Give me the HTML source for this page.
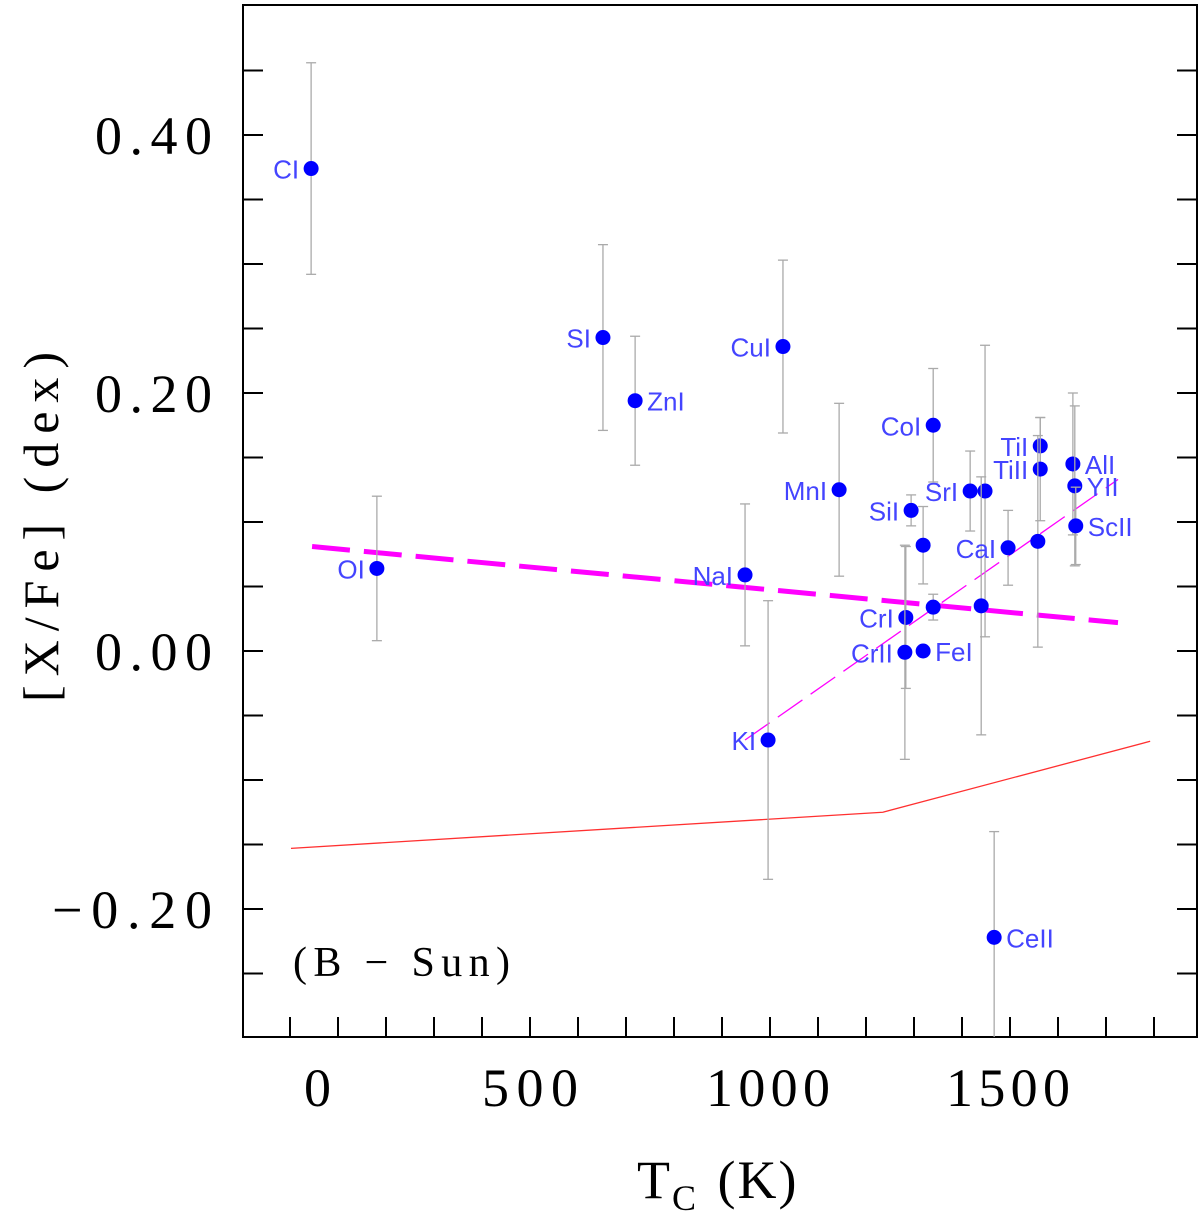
<!DOCTYPE html>
<html><head><meta charset="utf-8">
<style>
html,body{margin:0;padding:0;background:#fff;}
svg{display:block;}
.tk{font-family:"Liberation Serif",serif;font-size:54px;fill:#000;}
.lb{font-family:"Liberation Sans",sans-serif;font-size:26px;fill:#4444ff;}
</style></head>
<body>
<svg id="chart" width="1200" height="1220" viewBox="0 0 1200 1220" xmlns="http://www.w3.org/2000/svg">
<defs><clipPath id="pc"><rect x="243" y="5" width="954" height="1032"/></clipPath></defs>
<rect x="243" y="5" width="954" height="1032" fill="none" stroke="#000" stroke-width="2"/>
<g id="ticks"></g>
<g id="fits" clip-path="url(#pc)"></g>
<g id="pts" clip-path="url(#pc)"></g>
<text class="tk" x="304" y="1106">0</text>
<text class="tk" x="482" y="1106" textLength="96" lengthAdjust="spacing">500</text>
<text class="tk" x="706" y="1106" textLength="124" lengthAdjust="spacing">1000</text>
<text class="tk" x="946" y="1106" textLength="124" lengthAdjust="spacing">1500</text>
<text class="tk" x="95" y="154" textLength="117" lengthAdjust="spacing">0.40</text>
<text class="tk" x="95" y="412" textLength="117" lengthAdjust="spacing">0.20</text>
<text class="tk" x="95" y="670" textLength="117" lengthAdjust="spacing">0.00</text>
<text class="tk" x="52" y="928" textLength="160" lengthAdjust="spacing">−0.20</text>
<text class="tk" x="637" y="1198" letter-spacing="2">T<tspan font-size="36" dy="12">C</tspan><tspan dy="-12" dx="4"> (K)</tspan></text>
<text class="tk" transform="translate(58,527) rotate(-90)" text-anchor="middle" textLength="350" lengthAdjust="spacing" style="font-size:50px">[X/Fe] (dex)</text>
<text class="tk" x="293" y="976" style="font-size:42px" textLength="217" lengthAdjust="spacing">(B − Sun)</text>
</svg>
<script>
const elements = ["CI","OI","SI","ZnI","CuI","MnI","NaI","KI","CoI","SiI","","CrI","CrII","FeI","","SrI","","CaI","","TiI","TiII","","AlI","YII","ScII","CeII"];
const tcValues = [44,181,652,719,1027,1144,948,996,1340,1294,1319,1283,1281,1319,1340,1417,1448,1496,1440,1563,1563,1558,1631,1635,1637,1467];
const abundances = [0.374,0.064,0.243,0.194,0.236,0.125,0.059,-0.069,0.175,0.109,0.082,0.026,-0.001,0.0,0.034,0.124,0.124,0.080,0.035,0.159,0.141,0.085,0.145,0.128,0.097,-0.222];
const errors = [0.082,0.056,0.072,0.050,0.067,0.067,0.055,0.108,0.044,0.012,0.030,0.055,0.083,0.002,0.010,0.031,0.113,0.029,0.100,0.022,0.040,0.082,0.055,0.062,0.030,0.082];
const thickFitTc = [46,1725], thickFitVal = [0.081,0.022];
const thinFitTc = [948,1725], thinFitVal = [-0.069,0.133];
const redTc = [2,1235,1792], redVal = [-0.153,-0.125,-0.070];
const xTickVals = [0,100,200,300,400,500,600,700,800,900,1000,1100,1200,1300,1400,1500,1600,1700,1800];
const yTickVals = [0.45,0.40,0.35,0.30,0.25,0.20,0.15,0.10,0.05,0.00,-0.05,-0.10,-0.15,-0.20,-0.25];

const X = t => 290 + t*0.48;
const Y = v => 651 - v*1290;
const NS = "http://www.w3.org/2000/svg";
function mk(tag, parent, attrs){const e=document.createElementNS(NS,tag);for(const k in attrs)e.setAttribute(k,attrs[k]);parent.appendChild(e);return e;}

const tg = document.getElementById('ticks');
xTickVals.forEach(t=>{
  const l = mk('line',tg,{x1:X(t),x2:X(t),y1:1037,y2:1017,stroke:'#000','stroke-width':2});
  
  
});
yTickVals.forEach(v=>{
  const a = mk('line',tg,{x1:243,x2:263,y1:Y(v),y2:Y(v),stroke:'#000','stroke-width':2});
  
  
  const b = mk('line',tg,{x1:1177,x2:1197,y1:Y(v),y2:Y(v),stroke:'#000','stroke-width':2});
  
  
});

const fg = document.getElementById('fits');
const red = mk('polyline',fg,{points:redTc.map((t,i)=>X(t)+','+Y(redVal[i])).join(' '),fill:'none',stroke:'#ff3030','stroke-width':1.3});


const thin = mk('line',fg,{x1:X(thinFitTc[0]),y1:Y(thinFitVal[0]),x2:X(thinFitTc[1]),y2:Y(thinFitVal[1]),stroke:'#ff00ff','stroke-width':1.3,'stroke-dasharray':'30 10'});



const pg = document.getElementById('pts');
elements.forEach((el,i)=>{
  const x=X(tcValues[i]), y=Y(abundances[i]), y1=Y(abundances[i]+errors[i]), y2=Y(abundances[i]-errors[i]);
  const g = mk('g',pg,{});
  
  
  mk('line',g,{x1:x,x2:x,y1:y1,y2:y2,stroke:'#aaa','stroke-width':1.3});
  mk('line',g,{x1:x-5,x2:x+5,y1:y1,y2:y1,stroke:'#aaa','stroke-width':1.3});
  mk('line',g,{x1:x-5,x2:x+5,y1:y2,y2:y2,stroke:'#aaa','stroke-width':1.3});
  mk('circle',g,{cx:x,cy:y,r:7.5,fill:'#0000ff'});
});

const thick = mk('line',fg,{x1:X(thickFitTc[0]),y1:Y(thickFitVal[0]),x2:X(thickFitTc[1]),y2:Y(thickFitVal[1]),stroke:'#ff00ff','stroke-width':5,'stroke-dasharray':'38 14'});



const labelSide = [-1,-1,-1,1,-1,-1,-1,-1,-1,-1,0,-1,-1,1,0,-1,0,-1,0,-1,-1,0,1,1,1,1];
elements.forEach((el,i)=>{
  if(!el) return;
  const x=X(tcValues[i]), y=Y(abundances[i]);
  const s = labelSide[i];
  const t = mk('text',pg,{class:'lb',x: s<0 ? x-12 : x+12, y:y+10,'text-anchor': s<0?'end':'start'});
  t.textContent = el;
  
  
});
</script>
</body></html>
